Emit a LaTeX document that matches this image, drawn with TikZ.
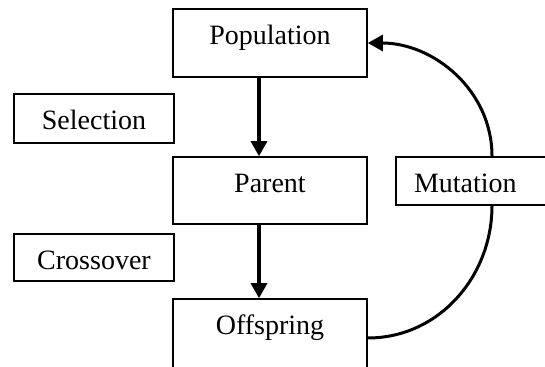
\documentclass[tikz,border=0pt]{standalone}
\usepackage{fontspec}
\setmainfont{Liberation Serif}
\usetikzlibrary{arrows.meta}

\begin{document}
\begin{tikzpicture}[
  x=0.5pt, y=0.5pt,
  every node/.style = {font=\fontsize{14pt}{16pt}\selectfont},
  box/.style = {shape=rectangle, draw, line width=0.8pt, inner sep=0pt, text height=18pt},
  flow/.style = {line width=1.6pt, -{Triangle[length=7.5pt,width=8pt]}},
  loop/.style = {line width=1.5pt}
    ]
  \useasboundingbox (0,0) rectangle (545,-367);
  \clip (0,0) rectangle (545,-367);
  \node[box, minimum width=97pt, text depth=16pt] (population) at (270,-43) {Population};
  \node[box, minimum width=80pt, text depth=6.5pt] (selection) at (94,-118.5) {Selection};
  \node[box, minimum width=97pt, text depth=15.5pt] (parent) at (270,-190.5) {Parent};
  \node[box, minimum width=80pt, text depth=5.5pt] (crossover) at (94,-257.5) {Crossover};
  \node[box, inner xsep=9pt, text width=78pt, align=left, text depth=6pt] (mutation) at (492,-181) {Mutation};
  \node[box, minimum width=97pt, text depth=21pt] (offspring) at (270,-338) {Offspring};
  \draw[flow] ([xshift=-5.5pt]population.south) -- ([xshift=-5.5pt]parent.north);
  \draw[flow] ([xshift=-5.5pt]parent.south) -- ([xshift=-5.5pt]offspring.north);
  \draw[loop] (offspring.east) to[out=0, in=-90] (mutation.south);
  \draw[loop, -{Triangle[length=7.5pt,width=8pt]}] (mutation.north) to[out=90, in=0] (population.east);
\end{tikzpicture}
\end{document}
